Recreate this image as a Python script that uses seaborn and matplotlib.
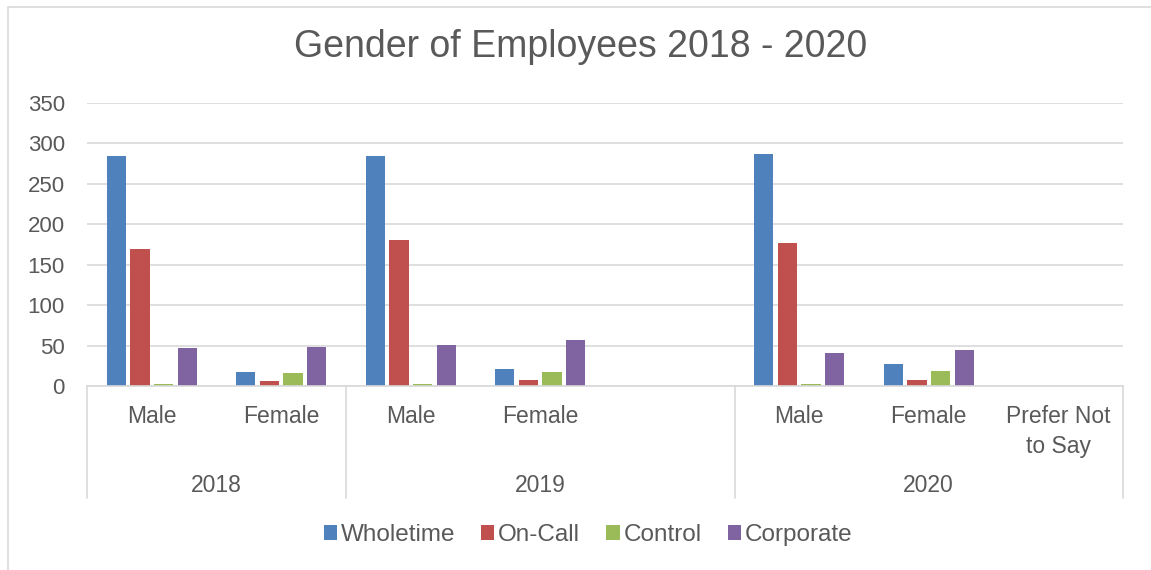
import numpy as np
import pandas as pd
import matplotlib
matplotlib.use("Agg")
import matplotlib.pyplot as plt
import seaborn as sns
from matplotlib.patches import Rectangle

years = ["2018", "2018", "2019", "2019", "2019", "2020", "2020", "2020"]
genders = ["Male", "Female", "Male", "Female", "", "Male", "Female", "Prefer Not\nto Say"]

wholetime = [285, 17, 284, 21, np.nan, 287, 27, 0.5]
on_call = [170, 6, 180, 7, np.nan, 177, 7, 0.5]
control = [3, 16, 3, 17, np.nan, 2, 19, 0]
corporate = [47, 48, 51, 57, np.nan, 41, 45, 0.5]

series = ["Wholetime", "On-Call", "Control", "Corporate"]
colors = ["#4F81BD", "#C0504D", "#9BBB59", "#8064A2"]

slots = [y + "|" + g for y, g in zip(years, genders)]
values = {"Wholetime": wholetime, "On-Call": on_call, "Control": control, "Corporate": corporate}

rows = []
for name in series:
    for slot, v in zip(slots, values[name]):
        rows.append({"slot": slot, "series": name, "count": v})
df = pd.DataFrame(rows).dropna()

sns.set_style("white")
plt.rcParams["font.family"] = ["Liberation Sans", "DejaVu Sans"]
text_color = "#595959"
line_color = "#D9D9D9"

W, H = 1151, 570
fig = plt.figure(figsize = (W / 100, H / 100), dpi = 100)

# outer chart border (right and bottom edges run off the image)
fig.patches.append(Rectangle((8 / W, -0.02), 1.05, 1 - 7 / H + 0.02, transform = fig.transFigure,
                             fill = False, edgecolor = line_color, linewidth = 1.2))

left, right, top, bottom = 87, 1123, 103, 386
ax = fig.add_axes([left / W, 1 - bottom / H, (right - left) / W, (bottom - top) / H])

sns.barplot(data = df, x = "slot", y = "count", hue = "series", order = slots, hue_order = series,
            palette = colors, saturation = 1, width = 0.73, gap = 0.19, errorbar = None,
            linewidth = 0, legend = False, ax = ax)

ax.set_xlim(-0.5, len(slots) - 0.5)
ax.set_ylim(0, 350)
ax.set_yticks(range(0, 351, 50))
ax.yaxis.grid(True, color = line_color, linewidth = 1.2)
ax.set_axisbelow(True)
for s in ["top", "right", "left"]:
    ax.spines[s].set_visible(False)
ax.spines["bottom"].set_color(line_color)
ax.spines["bottom"].set_linewidth(1.2)

ax.set_xticks(range(len(slots)))
ax.set_xticklabels(genders, linespacing = 1.35)
ax.tick_params(axis = "x", length = 0, pad = 14, labelsize = 16.5, labelcolor = text_color)
ax.tick_params(axis = "y", length = 0, pad = 16, labelsize = 16, labelcolor = text_color)
ax.set_xlabel("")
ax.set_ylabel("")

# year level of the category axis
axis_h = bottom - top
year_y = (bottom - 486) / axis_h
sep_y = (bottom - 498) / axis_h
trans = ax.get_xaxis_transform()
for yr in ["2018", "2019", "2020"]:
    idx = [i for i, y in enumerate(years) if y == yr]
    ax.text(np.mean(idx), year_y, yr, transform = trans, ha = "center", va = "center",
            fontsize = 16.5, color = text_color)
edges = [-0.5] + [i + 0.5 for i in range(len(years) - 1) if years[i] != years[i + 1]] + [len(years) - 0.5]
for e in edges:
    ax.plot([e, e], [0, sep_y], transform = trans, color = line_color, linewidth = 1.2, clip_on = False)

fig.text(581 / W, 1 - 57 / H, "Gender of Employees 2018 - 2020", ha = "center", va = "baseline",
         fontsize = 27, color = text_color)

handles = [Rectangle((0, 0), 1, 1, facecolor = c, edgecolor = "none") for c in colors]
fig.legend(handles, series, loc = "center", bbox_to_anchor = (588 / W, 1 - 535 / H), ncol = 4,
           frameon = False, fontsize = 17.5, handlelength = 0.54, handleheight = 0.54,
           handletextpad = 0.16, columnspacing = 1.07, borderpad = 0, labelcolor = text_color)

fig.savefig("out.png", dpi = 100)
